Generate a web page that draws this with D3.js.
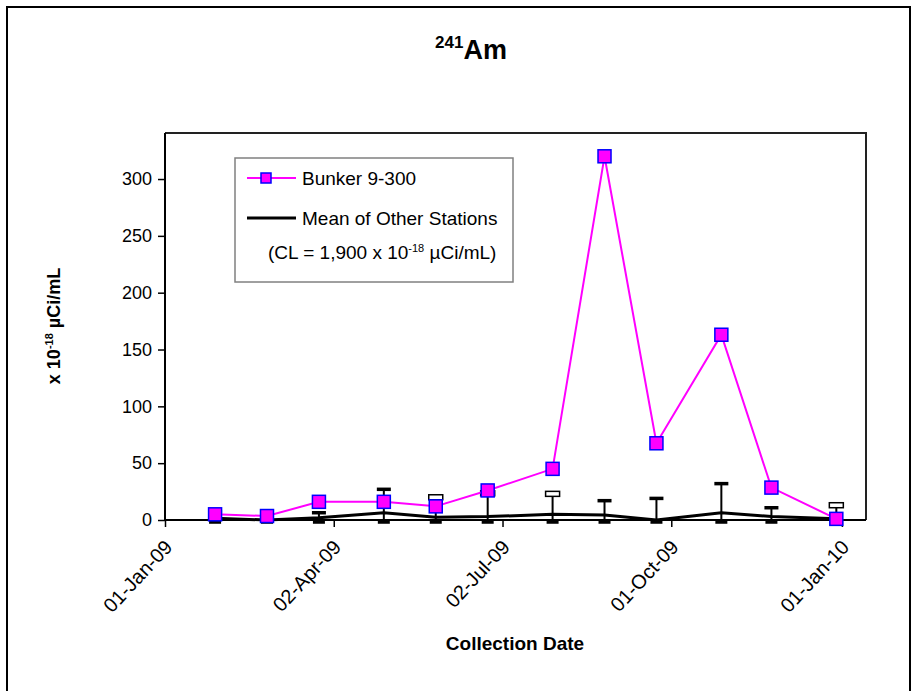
<!DOCTYPE html>
<html>
<head>
<meta charset="utf-8">
<script src="https://cdn.jsdelivr.net/npm/d3@7"></script>
<style>
  body { margin: 0; background: #fff; }
  text { font-family: "Liberation Sans", Arial, sans-serif; }
</style>
</head>
<body>
<div id="chart"></div>
<script>
// collection dates and results
var dates = ["2009-01-28", "2009-02-25", "2009-03-25", "2009-04-29", "2009-05-27", "2009-06-24",
             "2009-07-29", "2009-08-26", "2009-09-23", "2009-10-28", "2009-11-24", "2009-12-29"];
var bunker = [5, 3.5, 16, 16, 12, 26, 45, 320, 67.5, 163, 28.5, 1];
var meanOther = [1.5, 0, 2, 6.4, 2.5, 3, 5, 4.5, 0, 6.4, 3, 1];
var errHigh = [7.5, 5.5, 6.4, 27, 20, 23.5, 23, 17, 19, 32, 10.8, 13];
var errLow = [-2, -2, -2, -2, -2, -2, -2, -2, -2, -2, -2, -2];
var hollowCap = [false, false, false, false, true, true, true, false, false, false, false, true];
var xTicks = ["2009-01-01", "2009-04-02", "2009-07-02", "2009-10-01", "2010-01-01"];
var yTicks = [0, 50, 100, 150, 200, 250, 300];

var parse = d3.timeParse("%Y-%m-%d");
var fmt = d3.timeFormat("%d-%b-%y");

var width = 913, height = 691;
var plotL = 165, plotR = 866, plotT = 133, plotB = 520;

var svg = d3.select("#chart").append("svg").attr("width", width).attr("height", height);

// outer border (bottom edge falls just outside the picture)
svg.append("rect").attr("x", 7).attr("y", 7).attr("width", 903).attr("height", 700)
    .attr("fill", "#fff").attr("stroke", "#000").attr("stroke-width", 2);

var x = d3.scaleTime()
    .domain([parse("2009-01-01"), parse("2010-01-14")])
    .range([plotL, plotR]);
var y = d3.scaleLinear().domain([0, 340.5]).range([plotB, plotT]);

// plot frame top/right
svg.append("path")
    .attr("d", "M" + plotL + "," + plotT + "H" + plotR + "V" + plotB)
    .attr("fill", "none").attr("stroke", "#222").attr("stroke-width", 2);

// y axis
var yAxis = svg.append("g").attr("transform", "translate(" + plotL + ",0)")
    .call(d3.axisLeft(y).tickValues(yTicks).tickSize(7).tickPadding(6));
yAxis.select(".domain").attr("stroke-width", 2).attr("d", "M0," + plotT + "V" + plotB);
yAxis.selectAll(".tick line").attr("stroke-width", 1.5);
yAxis.selectAll(".tick text").attr("font-size", 18).attr("fill", "#000")
    .attr("font-family", "Liberation Sans, Arial, sans-serif");

// x axis
var xAxis = svg.append("g").attr("transform", "translate(0," + plotB + ")")
    .call(d3.axisBottom(x).tickValues(xTicks.map(parse)).tickSize(7).tickFormat(fmt));
xAxis.select(".domain").attr("stroke-width", 2).attr("d", "M" + plotL + ",0H" + plotR);
xAxis.selectAll(".tick line").attr("stroke-width", 1.5);
xAxis.selectAll(".tick text")
    .attr("font-size", 20).attr("fill", "#000")
    .attr("font-family", "Liberation Sans, Arial, sans-serif")
    .attr("text-anchor", "end")
    .attr("dy", 0)
    .attr("transform", "translate(8,28) rotate(-47)")
    .attr("y", 0).attr("x", 0);

var pts = dates.map(function(d, i) {
    return {date: parse(d), b: bunker[i], m: meanOther[i], hi: errHigh[i], lo: errLow[i], hollow: hollowCap[i]};
});

// error bars on the mean
var eb = svg.append("g");
pts.forEach(function(p) {
    var cx = x(p.date);
    eb.append("line").attr("x1", cx).attr("x2", cx).attr("y1", y(p.lo)).attr("y2", y(p.hi))
        .attr("stroke", "#000").attr("stroke-width", 2);
    eb.append("line").attr("x1", cx - 6).attr("x2", cx + 6).attr("y1", y(p.lo)).attr("y2", y(p.lo))
        .attr("stroke", "#000").attr("stroke-width", 3);
    if (p.hollow) {
        eb.append("rect").attr("x", cx - 7).attr("y", y(p.hi) - 2.5).attr("width", 14).attr("height", 5)
            .attr("fill", "#fff").attr("stroke", "#000").attr("stroke-width", 1.5);
    } else {
        eb.append("line").attr("x1", cx - 7).attr("x2", cx + 7).attr("y1", y(p.hi)).attr("y2", y(p.hi))
            .attr("stroke", "#000").attr("stroke-width", 3.5);
    }
});

// mean of other stations
svg.append("path").datum(pts)
    .attr("fill", "none").attr("stroke", "#000").attr("stroke-width", 3)
    .attr("d", d3.line().x(function(d) { return x(d.date); }).y(function(d) { return y(d.m); }));

// bunker 9-300
svg.append("path").datum(pts)
    .attr("fill", "none").attr("stroke", "#ff00ff").attr("stroke-width", 2)
    .attr("d", d3.line().x(function(d) { return x(d.date); }).y(function(d) { return y(d.b); }));

svg.append("g").selectAll("rect").data(pts).enter().append("rect")
    .attr("x", function(d) { return x(d.date) - 6.5; })
    .attr("y", function(d) { return y(d.b) - 6.5; })
    .attr("width", 13).attr("height", 13)
    .attr("fill", "#ff00ff").attr("stroke", "#0000ff").attr("stroke-width", 1.5);

// title
var title = svg.append("text").attr("x", 471).attr("y", 59).attr("text-anchor", "middle")
    .attr("font-weight", "bold");
title.append("tspan").attr("font-size", 17).attr("dy", -11).text("241");
title.append("tspan").attr("font-size", 27).attr("dy", 11).text("Am");

// axis titles
svg.append("text").attr("x", 515).attr("y", 650).attr("text-anchor", "middle")
    .attr("font-size", 19).attr("font-weight", "bold").text("Collection Date");

var yt = svg.append("text").attr("transform", "translate(60,326) rotate(-90)")
    .attr("text-anchor", "middle").attr("font-size", 18).attr("font-weight", "bold");
yt.append("tspan").text("x 10");
yt.append("tspan").attr("font-size", 11).attr("dy", -7).text("-18");
yt.append("tspan").attr("dy", 7).text(" \u00b5Ci/mL");

// legend
var lg = svg.append("g");
lg.append("rect").attr("x", 235).attr("y", 158).attr("width", 278).attr("height", 124)
    .attr("fill", "#fff").attr("stroke", "#808080").attr("stroke-width", 1.5);
lg.append("line").attr("x1", 247).attr("x2", 296).attr("y1", 178).attr("y2", 178)
    .attr("stroke", "#ff00ff").attr("stroke-width", 2);
lg.append("rect").attr("x", 266 - 5).attr("y", 178 - 5).attr("width", 10).attr("height", 10)
    .attr("fill", "#ff00ff").attr("stroke", "#0000ff").attr("stroke-width", 1.5);
lg.append("text").attr("x", 302).attr("y", 185).attr("font-size", 19).text("Bunker 9-300");
lg.append("line").attr("x1", 247).attr("x2", 296).attr("y1", 218).attr("y2", 218)
    .attr("stroke", "#000").attr("stroke-width", 3);
lg.append("text").attr("x", 302).attr("y", 225).attr("font-size", 19).text("Mean of Other Stations");
var cl = lg.append("text").attr("x", 268).attr("y", 259).attr("font-size", 19);
cl.append("tspan").text("(CL = 1,900  x 10");
cl.append("tspan").attr("font-size", 11).attr("dy", -7).text("-18");
cl.append("tspan").attr("dy", 7).text("  \u00b5Ci/mL)");
</script>
</body>
</html>
